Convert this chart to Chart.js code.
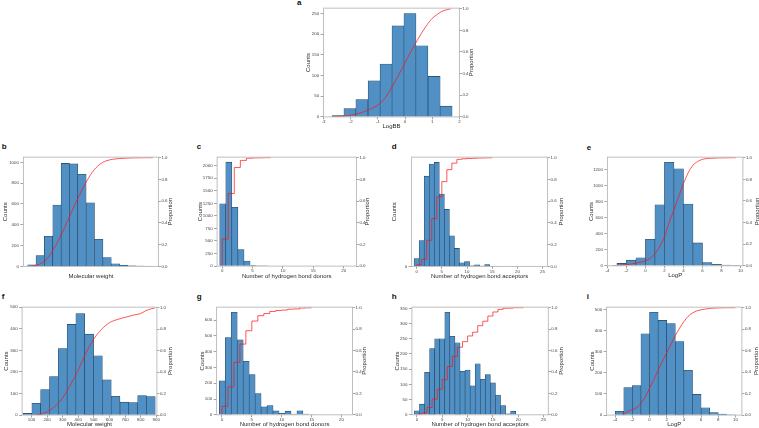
<!DOCTYPE html>
<html>
<head>
<meta charset="utf-8">
<script src="https://cdn.jsdelivr.net/npm/chart.js@4.4.0/dist/chart.umd.min.js"></script>
<style>
  html, body { margin: 0; padding: 0; background: #fff; }
  #fig { position: relative; width: 759px; height: 428px; overflow: hidden; }
  #fig canvas { position: absolute; }
  .tag { position: absolute; font: bold 8px "Liberation Sans", Arial, sans-serif; line-height: 8px; color: #111; }
</style>
</head>
<body>
<div id="fig"></div>
<script>
"use strict";

// ─── Data: histogram bins (centres), counts and cumulative proportion ──────

// a – LogBB
const A_BINS   = [-2.47, -2.03, -1.59, -1.14, -0.70, -0.26, 0.18, 0.62, 1.07, 1.51];
const A_COUNTS = [3, 20, 42, 87, 128, 220, 250, 172, 98, 26];
const A_CDF_X  = [-2.7, -2.4, -2.0, -1.6, -1.3, -1.0, -0.75, -0.5, -0.25, 0, 0.25, 0.5, 0.75, 1.0, 1.2, 1.4, 1.7];
const A_CDF_Y  = [0, 0.005, 0.015, 0.04, 0.07, 0.11, 0.17, 0.27, 0.38, 0.5, 0.62, 0.73, 0.83, 0.91, 0.95, 0.98, 1.0];

// b – Molecular weight (set 1)
const B_BINS   = [48, 110, 172, 235, 297, 359, 421, 483, 546, 608, 670, 732, 794, 857, 919];
const B_COUNTS = [15, 105, 290, 590, 990, 985, 885, 610, 260, 85, 25, 10, 5, 3, 2];
const B_CDF_X  = [40, 80, 120, 160, 200, 250, 300, 350, 400, 450, 500, 550, 600, 650, 700, 800, 950];
const B_CDF_Y  = [0, 0.01, 0.03, 0.07, 0.14, 0.25, 0.38, 0.52, 0.65, 0.77, 0.87, 0.935, 0.97, 0.985, 0.992, 0.998, 1.0];

// c – H-bond donors (set 1)
const C_BINS   = [0.1, 1.1, 2.1, 3.1, 4.1, 5.1, 6.1, 7.1];
const C_COUNTS = [1240, 2070, 1170, 330, 100, 10, 3, 2];
const C_CDF_X  = [0, 0, 1, 2, 3, 4, 5, 6, 7, 8];
const C_CDF_Y  = [0, 0.25, 0.67, 0.91, 0.975, 0.995, 0.998, 0.999, 1.0, 1.0];

// d – H-bond acceptors (set 1)
const D_BINS   = [0, 1, 2, 3, 4, 5, 6, 7, 8, 9, 10, 11, 12, 13, 14, 15, 16];
const D_COUNTS = [75, 245, 855, 970, 985, 685, 540, 290, 170, 35, 45, 5, 15, 3, 18, 2, 1];
const D_CDF_X  = [0, 0, 1, 2, 3, 4, 5, 6, 7, 8, 9, 10, 11, 12, 13, 14, 15];
const D_CDF_Y  = [0, 0.015, 0.065, 0.24, 0.44, 0.64, 0.78, 0.89, 0.95, 0.985, 0.99, 0.993, 0.995, 0.997, 0.998, 0.999, 1.0];

// e – LogP (set 1)
const E_BINS   = [-2.5, -1.5, -0.5, 0.5, 1.5, 2.5, 3.5, 4.5, 5.5, 6.5, 7.5, 8.5, 9.5];
const E_COUNTS = [30, 70, 100, 330, 760, 1290, 1210, 770, 285, 40, 18, 8, 2];
const E_CDF_X  = [-3.5, -3, -2, -1, 0, 0.5, 1, 1.5, 2, 2.5, 3, 3.5, 4, 4.5, 5, 5.5, 6, 7, 8, 9.5];
const E_CDF_Y  = [0, 0.003, 0.01, 0.025, 0.045, 0.07, 0.11, 0.18, 0.27, 0.4, 0.52, 0.64, 0.76, 0.86, 0.93, 0.965, 0.985, 0.995, 0.998, 1.0];

// f – Molecular weight (set 2)
const F_BINS   = [74, 131, 187, 244, 300, 357, 413, 470, 526, 583, 639, 696, 752, 809, 865];
const F_COUNTS = [8, 55, 118, 178, 308, 420, 470, 375, 275, 163, 87, 60, 58, 90, 86];
const F_CDF_X  = [110, 150, 200, 250, 300, 350, 400, 450, 500, 550, 600, 650, 700, 750, 800, 830, 870, 894];
const F_CDF_Y  = [0, 0.005, 0.03, 0.08, 0.16, 0.28, 0.42, 0.58, 0.71, 0.8, 0.86, 0.89, 0.91, 0.93, 0.945, 0.97, 0.99, 1.0];

// g – H-bond donors (set 2)
const G_BINS   = [0.05, 1.05, 2.05, 3.05, 4.05, 5.05, 6.05, 7.05, 8.05, 9.05, 10.05, 11.05, 12.05, 13.05, 14.05, 15.05];
const G_COUNTS = [215, 490, 650, 475, 340, 255, 135, 50, 58, 25, 10, 23, 5, 25, 5, 2];
const G_CDF_X  = [0, 0, 1, 2, 3, 4, 5, 6, 7, 8, 9, 10, 11, 12, 13, 14, 15];
const G_CDF_Y  = [0, 0.08, 0.26, 0.49, 0.66, 0.785, 0.875, 0.925, 0.945, 0.965, 0.974, 0.978, 0.986, 0.988, 0.997, 0.999, 1.0];

// h – H-bond acceptors (set 2)
const H_BINS   = [0, 1, 2, 3, 4, 5, 6, 7, 8, 9, 10, 11, 12, 13, 14, 15, 16, 17, 18, 19, 20];
const H_COUNTS = [13, 35, 140, 218, 250, 250, 337, 258, 237, 143, 147, 95, 168, 117, 132, 105, 65, 30, 3, 12, 1];
const H_CDF_X  = [0, 0, 1, 2, 3, 4, 5, 6, 7, 8, 9, 10, 11, 12, 13, 14, 15, 16, 17, 18, 19, 20, 21];
const H_CDF_Y  = [0, 0.005, 0.017, 0.068, 0.147, 0.238, 0.329, 0.451, 0.545, 0.631, 0.683, 0.736, 0.771, 0.832, 0.874, 0.922, 0.96, 0.984, 0.995, 0.996, 1.0, 1.0, 1.0];

// i – LogP (set 2)
const I_BINS   = [-3.5, -2.5, -1.5, -0.5, 0.5, 1.5, 2.5, 3.5, 4.5, 5.5, 6.5, 7.5, 8.5, 9.5];
const I_COUNTS = [18, 130, 140, 385, 487, 448, 433, 348, 212, 98, 35, 12, 5, 1];
const I_CDF_X  = [-3.2, -3, -2.5, -2, -1.5, -1, -0.5, 0, 0.5, 1, 1.5, 2, 2.5, 3, 3.5, 4, 4.5, 5, 5.5, 6, 7, 8, 10];
const I_CDF_Y  = [0, 0.01, 0.035, 0.05, 0.07, 0.11, 0.17, 0.25, 0.33, 0.42, 0.5, 0.58, 0.66, 0.74, 0.81, 0.87, 0.92, 0.95, 0.97, 0.98, 0.993, 0.998, 1.0];

// ─── Look ──────────────────────────────────────────────────────────────────
const FONT_FAMILY  = "'Liberation Sans', Arial, sans-serif";
const TICK_FONT    = { family: FONT_FAMILY, size: 4.4 };
const TITLE_FONT   = { family: FONT_FAMILY, size: 6 };
const TITLE_LH     = 6 * 1.2;
const TEXT_COLOUR  = "#2a2a2a";
const TICK_TEXT    = "#444";
const TICK_COLOUR  = "#666";
const FRAME_COLOUR = "#b8b8b8";
const BAR_FILL     = "rgb(80,144,197)";
const BAR_EDGE     = "#24435e";
const LINE_COLOUR  = "rgba(255,20,20,0.8)";
const PAD_TOP      = 4;

// ─── Panel layout (plot area in page px: left, right, top, bottom) ────────
const PANELS = [
  { tag: "a", tagPos: [297, -1.3], box: [324, 460, 8, 117],   lt: 15,   rt: 12,   bt: 9.5,
    bins: A_BINS, counts: A_COUNTS, cdfX: A_CDF_X, cdfY: A_CDF_Y, stepped: false,
    x: [-3, 2, 1], y: [263, 50], xLabel: "LogBB" },
  { tag: "b", tagPos: [1.7, 143.3], box: [23.5, 158, 157, 266],  lt: 17.8, rt: 12,   bt: 10,
    bins: B_BINS, counts: B_COUNTS, cdfX: B_CDF_X, cdfY: B_CDF_Y, stepped: false,
    x: [-15, 990, 200], y: [1050, 200], xLabel: "Molecular weight" },
  { tag: "c", tagPos: [196.7, 143.3], box: [217, 356, 157, 266], lt: 16.5, rt: 11,   bt: 10.3,
    bins: C_BINS, counts: C_COUNTS, cdfX: C_CDF_X, cdfY: C_CDF_Y, stepped: true,
    x: [-0.83, 22.1, 5], y: [2170, 250], xLabel: "Number of hydrogen bond donors" },
  { tag: "d", tagPos: [391.7, 143.3], box: [412, 548, 157, 266], lt: 17,   rt: 13.8, bt: 10,
    bins: D_BINS, counts: D_COUNTS, cdfX: D_CDF_X, cdfY: D_CDF_Y, stepped: true,
    x: [-1, 26, 5], y: [1035, 200], xLabel: "Number of hydrogen bond acceptors" },
  { tag: "e", tagPos: [586.7, 143.8], box: [607, 742, 157, 266], lt: 15.8, rt: 14.5, bt: 9.6,
    bins: E_BINS, counts: E_COUNTS, cdfX: E_CDF_X, cdfY: E_CDF_Y, stepped: false,
    x: [-4, 10.25, 2], y: [1355, 200], xLabel: "LogP" },
  { tag: "f", tagPos: [1.7, 292.8], box: [22, 157, 307, 415],  lt: 15.5, rt: 13.5, bt: 9.3,
    bins: F_BINS, counts: F_COUNTS, cdfX: F_CDF_X, cdfY: F_CDF_Y, stepped: false,
    x: [40, 904, 100], y: [500, 100], xLabel: "Molecular weight" },
  { tag: "g", tagPos: [196.7, 292.8], box: [217, 353, 307, 415], lt: 14,   rt: 11.9, bt: 9.6,
    bins: G_BINS, counts: G_COUNTS, cdfX: G_CDF_X, cdfY: G_CDF_Y, stepped: true,
    x: [-0.9, 21.85, 5], y: [683, 100], xLabel: "Number of hydrogen bond donors" },
  { tag: "h", tagPos: [391.7, 292.8], box: [412, 548, 307, 415], lt: 14.3, rt: 13.1, bt: 9.6,
    bins: H_BINS, counts: H_COUNTS, cdfX: H_CDF_X, cdfY: H_CDF_Y, stepped: true,
    x: [-1, 25.94, 5], y: [354, 50], xLabel: "Number of hydrogen bond acceptors" },
  { tag: "i", tagPos: [586.7, 292.8], box: [607, 742, 307, 415], lt: 14,   rt: 14.5, bt: 9.3,
    bins: I_BINS, counts: I_COUNTS, cdfX: I_CDF_X, cdfY: I_CDF_Y, stepped: false,
    x: [-5, 10.75, 2], y: [511, 100], xLabel: "LogP" },
];

// ─── Helpers ───────────────────────────────────────────────────────────────
const fig = document.getElementById("fig");

function onStep(v, step) {
  const k = v / step;
  return Math.abs(k - Math.round(k)) < 1e-6;
}

// grey box round the plot area + right-hand title drawn bottom-to-top
const framePlugin = {
  id: "frame",
  afterDatasetsDraw(chart) {
    const { ctx, chartArea: a } = chart;
    ctx.save();
    ctx.strokeStyle = FRAME_COLOUR;
    ctx.lineWidth = 0.9;
    ctx.strokeRect(a.left, a.top, a.right - a.left, a.bottom - a.top);
    ctx.restore();
  },
  afterDraw(chart, args, opts) {
    const { ctx, chartArea: a } = chart;
    ctx.save();
    ctx.translate(a.right + opts.offset, (a.top + a.bottom) / 2);
    ctx.rotate(-Math.PI / 2);
    ctx.font = `${TITLE_FONT.size}px ${FONT_FAMILY}`;
    ctx.fillStyle = TEXT_COLOUR;
    ctx.textAlign = "center";
    ctx.textBaseline = "middle";
    ctx.fillText("Proportion", 0, 0);
    ctx.restore();
  },
};

function tickGrid(len) {
  return { display: true, drawOnChartArea: false, drawTicks: true, tickLength: len,
           color: TICK_COLOUR, lineWidth: 0.6, offset: false };
}

function makePanel(p) {
  const [l, r, t, b] = p.box;
  const lw = p.lt + TITLE_LH / 2;
  const rw = p.rt + TITLE_LH / 2;
  const bh = p.bt + TITLE_LH / 2;
  const W = lw + (r - l) + rw;
  const H = PAD_TOP + (b - t) + bh;

  const cv = document.createElement("canvas");
  cv.width = Math.round(W);
  cv.height = Math.round(H);
  cv.style.left = (l - lw) + "px";
  cv.style.top = (t - PAD_TOP) + "px";
  fig.appendChild(cv);

  const tag = document.createElement("div");
  tag.className = "tag";
  tag.textContent = p.tag;
  tag.style.left = p.tagPos[0] + "px";
  tag.style.top = p.tagPos[1] + "px";
  fig.appendChild(tag);

  const [xMin, xMax, xStep] = p.x;
  const [yMax, yStep] = p.y;

  // bars fill their bin: bin width in value units times pixels per unit
  const binW = (p.bins[p.bins.length - 1] - p.bins[0]) / (p.bins.length - 1);
  const barPx = binW * (cv.width - lw - rw) / (xMax - xMin);

  return new Chart(cv, {
    data: {
      datasets: [
        {
          type: "line",
          data: p.cdfX.map((x, i) => ({ x, y: p.cdfY[i] })),
          xAxisID: "x",
          yAxisID: "y1",
          borderColor: LINE_COLOUR,
          borderWidth: 0.9,
          pointRadius: 0,
          stepped: p.stepped,
          cubicInterpolationMode: p.stepped ? "default" : "monotone",
          order: 0,
        },
        {
          type: "bar",
          data: p.bins.map((x, i) => ({ x, y: p.counts[i] })),
          xAxisID: "x",
          yAxisID: "y",
          backgroundColor: BAR_FILL,
          borderColor: BAR_EDGE,
          borderWidth: 0.6,
          barThickness: barPx,
          grouped: false,
          order: 1,
        },
      ],
    },
    options: {
      responsive: false,
      animation: false,
      devicePixelRatio: 1,
      layout: { padding: { top: PAD_TOP, left: 0, right: 0, bottom: 0 } },
      plugins: {
        legend: { display: false },
        tooltip: { enabled: false },
        frame: { offset: p.rt },
      },
      scales: {
        x: {
          type: "linear", position: "bottom", min: xMin, max: xMax, offset: false,
          afterFit: s => { s.height = bh; },
          afterBuildTicks: s => { s.ticks = s.ticks.filter(k => onStep(k.value, xStep)); },
          grid: tickGrid(2.5),
          border: { display: false },
          ticks: { stepSize: xStep, includeBounds: false, autoSkip: false, maxRotation: 0,
                   padding: 0, font: TICK_FONT, color: TICK_TEXT, callback: v => String(v) },
          title: { display: true, text: p.xLabel, font: TITLE_FONT, color: TEXT_COLOUR, padding: 0 },
        },
        y: {
          type: "linear", position: "left", min: 0, max: yMax,
          afterFit: s => { s.width = lw; },
          afterBuildTicks: s => { s.ticks = s.ticks.filter(k => onStep(k.value, yStep)); },
          grid: tickGrid(3),
          border: { display: false },
          ticks: { stepSize: yStep, includeBounds: false, padding: 1.5, font: TICK_FONT, color: TICK_TEXT,
                   callback: v => String(v) },
          title: { display: true, text: "Counts", font: TITLE_FONT, color: TEXT_COLOUR, padding: 0 },
        },
        y1: {
          type: "linear", position: "right", min: 0, max: 1.005,
          afterFit: s => { s.width = rw; },
          afterBuildTicks: s => { s.ticks = s.ticks.filter(k => onStep(k.value, 0.2)); },
          grid: tickGrid(2.5),
          border: { display: false },
          ticks: { stepSize: 0.2, includeBounds: false, padding: 0.5, font: TICK_FONT, color: TICK_TEXT,
                   callback: v => v.toFixed(1) },
          title: { display: false },
        },
      },
    },
    plugins: [framePlugin],
  });
}

// ─── Build all nine panels ────────────────────────────────────────────────
PANELS.forEach(makePanel);
</script>
</body>
</html>
